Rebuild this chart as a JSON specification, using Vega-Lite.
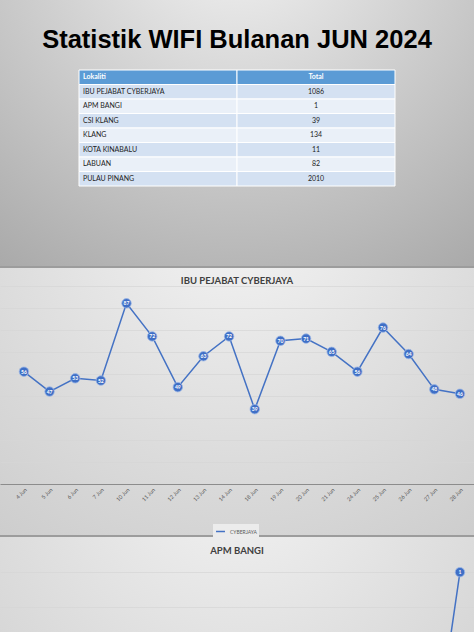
{
  "$schema": "https://vega.github.io/schema/vega-lite/v6.json",
  "padding": 0,
  "spacing": 2,
  "bounds": "flush",
  "background": "#9c9c9c",
  "config": {"font": "Lato", "view": {"stroke": null}},
  "resolve": {"scale": {"x": "independent", "y": "independent", "color": "independent"}, "legend": {"color": "independent"}, "axis": {"x": "independent", "y": "independent"}},
  "datasets": {
    "jadual": [
      {"baris": 0, "lajur": "Lokaliti", "teks": "Lokaliti", "jenis": "header"},
      {"baris": 0, "lajur": "Total", "teks": "Total", "jenis": "header"},
      {"baris": 1, "lajur": "Lokaliti", "teks": "IBU PEJABAT CYBERJAYA", "jenis": "ganjil"},
      {"baris": 1, "lajur": "Total", "teks": "1086", "jenis": "ganjil"},
      {"baris": 2, "lajur": "Lokaliti", "teks": "APM BANGI", "jenis": "genap"},
      {"baris": 2, "lajur": "Total", "teks": "1", "jenis": "genap"},
      {"baris": 3, "lajur": "Lokaliti", "teks": "CSI KLANG", "jenis": "ganjil"},
      {"baris": 3, "lajur": "Total", "teks": "39", "jenis": "ganjil"},
      {"baris": 4, "lajur": "Lokaliti", "teks": "KLANG", "jenis": "genap"},
      {"baris": 4, "lajur": "Total", "teks": "134", "jenis": "genap"},
      {"baris": 5, "lajur": "Lokaliti", "teks": "KOTA KINABALU", "jenis": "ganjil"},
      {"baris": 5, "lajur": "Total", "teks": "11", "jenis": "ganjil"},
      {"baris": 6, "lajur": "Lokaliti", "teks": "LABUAN", "jenis": "genap"},
      {"baris": 6, "lajur": "Total", "teks": "82", "jenis": "genap"},
      {"baris": 7, "lajur": "Lokaliti", "teks": "PULAU PINANG", "jenis": "ganjil"},
      {"baris": 7, "lajur": "Total", "teks": "2010", "jenis": "ganjil"}
    ],
    "cyber": [
      {"tarikh": "4 Jun", "jumlah": 56},
      {"tarikh": "5 Jun", "jumlah": 47},
      {"tarikh": "6 Jun", "jumlah": 53},
      {"tarikh": "7 Jun", "jumlah": 52},
      {"tarikh": "10 Jun", "jumlah": 87},
      {"tarikh": "11 Jun", "jumlah": 72},
      {"tarikh": "12 Jun", "jumlah": 49},
      {"tarikh": "13 Jun", "jumlah": 63},
      {"tarikh": "14 Jun", "jumlah": 72},
      {"tarikh": "18 Jun", "jumlah": 39},
      {"tarikh": "19 Jun", "jumlah": 70},
      {"tarikh": "20 Jun", "jumlah": 71},
      {"tarikh": "21 Jun", "jumlah": 65},
      {"tarikh": "24 Jun", "jumlah": 56},
      {"tarikh": "25 Jun", "jumlah": 76},
      {"tarikh": "26 Jun", "jumlah": 64},
      {"tarikh": "27 Jun", "jumlah": 48},
      {"tarikh": "28 Jun", "jumlah": 46}
    ],
    "bangi": [
      {"tarikh": "4 Jun", "jumlah": 0},
      {"tarikh": "5 Jun", "jumlah": 0},
      {"tarikh": "6 Jun", "jumlah": 0},
      {"tarikh": "7 Jun", "jumlah": 0},
      {"tarikh": "10 Jun", "jumlah": 0},
      {"tarikh": "11 Jun", "jumlah": 0},
      {"tarikh": "12 Jun", "jumlah": 0},
      {"tarikh": "13 Jun", "jumlah": 0},
      {"tarikh": "14 Jun", "jumlah": 0},
      {"tarikh": "18 Jun", "jumlah": 0},
      {"tarikh": "19 Jun", "jumlah": 0},
      {"tarikh": "20 Jun", "jumlah": 0},
      {"tarikh": "21 Jun", "jumlah": 0},
      {"tarikh": "24 Jun", "jumlah": 0},
      {"tarikh": "25 Jun", "jumlah": 0},
      {"tarikh": "26 Jun", "jumlah": 0},
      {"tarikh": "27 Jun", "jumlah": 0},
      {"tarikh": "28 Jun", "jumlah": 1}
    ]
  },
  "vconcat": [
    {
      "width": 474,
      "height": 266,
      "view": {"stroke": null, "fill": {"gradient": "radial", "x1": 0.5, "y1": 0.05, "r1": 0, "x2": 0.5, "y2": 0.05, "r2": 0.95, "stops": [{"offset": 0, "color": "#f5f5f5"}, {"offset": 0.45, "color": "#d0d0d0"}, {"offset": 1, "color": "#a4a4a4"}]}},
      "title": {"text": "Statistik WIFI Bulanan JUN 2024", "font": "Liberation Sans", "fontSize": 25.5, "fontWeight": "bold", "color": "#000000", "anchor": "middle", "frame": "group", "baseline": "alphabetic", "offset": -73},
      "data": {"name": "jadual"},
      "encoding": {
        "x": {"field": "lajur", "type": "nominal", "scale": {"domain": ["Lokaliti", "Total"], "range": [79, 395], "paddingInner": 0, "paddingOuter": 0}, "axis": null},
        "y": {"field": "baris", "type": "ordinal", "scale": {"range": [70, 186], "paddingInner": 0, "paddingOuter": 0}, "axis": null}
      },
      "layer": [
        {
          "mark": {"type": "rect", "stroke": "#ffffff", "strokeWidth": 1},
          "encoding": {"color": {"field": "jenis", "type": "nominal", "scale": {"domain": ["header", "ganjil", "genap"], "range": ["#5b9bd5", "#d4e1f2", "#eaf0f8"]}, "legend": null}}
        },
        {
          "transform": [{"filter": "datum.lajur === 'Lokaliti' && datum.jenis !== 'header'"}],
          "mark": {"type": "text", "align": "left", "dx": 4, "fontSize": 7, "font": "Lato", "color": "#1e1e1e"},
          "encoding": {"x": {"field": "lajur", "type": "nominal", "bandPosition": 0}, "text": {"field": "teks"}}
        },
        {
          "transform": [{"filter": "datum.lajur === 'Total' && datum.jenis !== 'header'"}],
          "mark": {"type": "text", "align": "center", "fontSize": 7, "font": "Lato", "color": "#1e1e1e"},
          "encoding": {"text": {"field": "teks"}}
        },
        {
          "transform": [{"filter": "datum.lajur === 'Lokaliti' && datum.jenis === 'header'"}],
          "mark": {"type": "text", "align": "left", "dx": 4, "fontSize": 7, "font": "Lato", "fontWeight": "bold", "color": "#ffffff"},
          "encoding": {"x": {"field": "lajur", "type": "nominal", "bandPosition": 0}, "text": {"field": "teks"}}
        },
        {
          "transform": [{"filter": "datum.lajur === 'Total' && datum.jenis === 'header'"}],
          "mark": {"type": "text", "align": "center", "fontSize": 7, "font": "Lato", "fontWeight": "bold", "color": "#ffffff"},
          "encoding": {"text": {"field": "teks"}}
        }
      ]
    },
    {
      "width": 474,
      "height": 267,
      "view": {"stroke": null, "fill": {"gradient": "radial", "x1": 0.5, "y1": 0.1, "r1": 0, "x2": 0.5, "y2": 0.1, "r2": 1, "stops": [{"offset": 0, "color": "#f4f4f4"}, {"offset": 1, "color": "#c6c6c6"}]}},
      "title": {"text": "IBU PEJABAT CYBERJAYA", "font": "Lato", "fontSize": 9.5, "fontWeight": "bold", "color": "#404040", "anchor": "middle", "frame": "group", "baseline": "alphabetic", "offset": -25},
      "data": {"name": "cyber"},
      "encoding": {
        "x": {"field": "tarikh", "type": "ordinal", "sort": null, "scale": {"type": "point", "padding": 0.74, "align": 0.63},
          "axis": {"orient": "bottom", "offset": -51, "title": null, "labelAngle": -45, "labelFontSize": 5.5, "labelColor": "#595959", "ticks": false, "domainColor": "#8c8c8c", "domainWidth": 1, "labelPadding": 3, "grid": false, "zindex": 1}},
        "y": {"field": "jumlah", "type": "quantitative", "scale": {"domain": [-18, 103], "nice": false, "zero": false},
          "axis": {"title": null, "labels": false, "ticks": false, "domain": false, "grid": true, "gridColor": "#d6d6d6", "gridOpacity": 0.7, "values": [15, 25, 35, 45, 55, 65, 75, 85, 95]}}
      },
      "layer": [
        {
          "mark": {"type": "line", "strokeWidth": 1.5},
          "encoding": {"color": {"datum": "CYBERJAYA", "type": "nominal", "scale": {"domain": ["CYBERJAYA"], "range": ["#4472c4"]},
            "legend": {"orient": "none", "legendX": 213, "legendY": 256, "direction": "horizontal", "title": null, "labelFontSize": 5, "labelColor": "#595959", "symbolType": "stroke", "symbolSize": 80, "symbolStrokeWidth": 1.5, "fillColor": "#ececec", "padding": 2}}}
        },
        {
          "mark": {"type": "point", "filled": true, "size": 90, "fill": "#3f6fc6", "stroke": "#9db8e6", "strokeWidth": 0.8, "opacity": 1}
        },
        {
          "mark": {"type": "text", "fontSize": 5, "color": "#ffffff", "fontWeight": "bold"},
          "encoding": {"text": {"field": "jumlah", "type": "quantitative"}}
        }
      ]
    },
    {
      "width": 474,
      "height": 264,
      "view": {"stroke": null, "fill": {"gradient": "radial", "x1": 0.5, "y1": 0.05, "r1": 0, "x2": 0.5, "y2": 0.05, "r2": 1, "stops": [{"offset": 0, "color": "#f4f4f4"}, {"offset": 1, "color": "#c6c6c6"}]}},
      "title": {"text": "APM BANGI", "font": "Lato", "fontSize": 9.5, "fontWeight": "bold", "color": "#404040", "anchor": "middle", "frame": "group", "baseline": "alphabetic", "offset": -26},
      "data": {"name": "bangi"},
      "encoding": {
        "x": {"field": "tarikh", "type": "ordinal", "sort": null, "scale": {"type": "point", "padding": 0.74, "align": 0.63}, "axis": null},
        "y": {"field": "jumlah", "type": "quantitative", "scale": {"domain": [-0.3, 1.2], "nice": false, "zero": false},
          "axis": {"title": null, "labels": false, "ticks": false, "domain": false, "grid": true, "gridColor": "#d6d6d6", "gridOpacity": 0.7, "values": [0.2, 0.4, 0.6, 0.8, 1.0]}}
      },
      "layer": [
        {"mark": {"type": "line", "strokeWidth": 1.5, "color": "#4472c4"}},
        {"mark": {"type": "point", "filled": true, "size": 90, "fill": "#3f6fc6", "stroke": "#9db8e6", "strokeWidth": 0.8, "opacity": 1}},
        {"mark": {"type": "text", "fontSize": 5, "color": "#ffffff", "fontWeight": "bold"}, "encoding": {"text": {"field": "jumlah", "type": "quantitative"}}}
      ]
    }
  ]
}
